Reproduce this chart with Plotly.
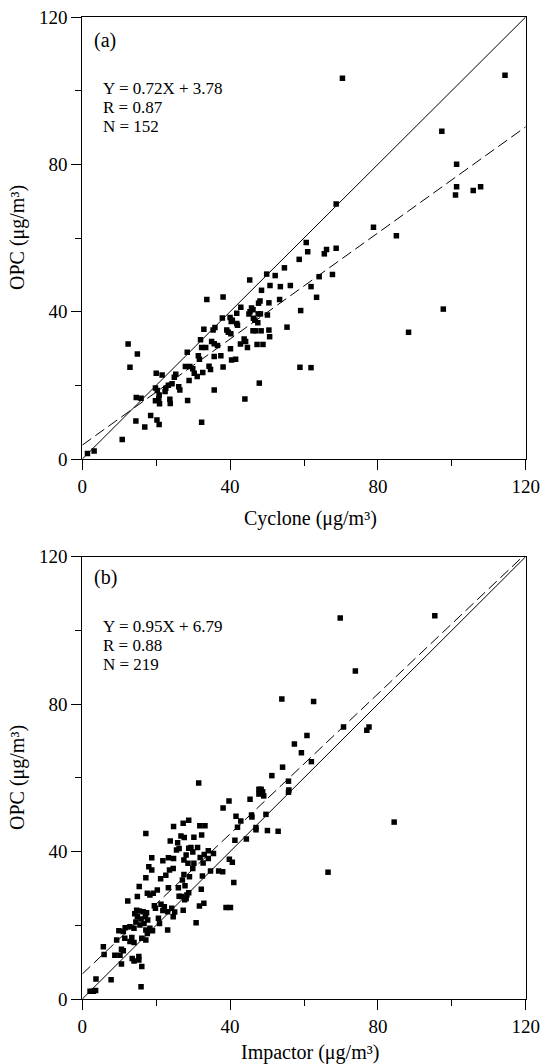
import plotly.graph_objects as go

# ---------------- data ----------------
cyclone_x = [70.4, 114.4, 97.3, 101.3, 101.3, 101.0, 105.8, 107.8, 68.7, 78.8, 85.0, 60.6, 66.1, 68.7,
             61.0, 58.7, 65.5, 54.7, 49.9, 52.2, 67.7, 64.1, 45.3, 50.8, 53.6, 56.3, 61.9, 48.5, 63.4, 53.4,
             33.7, 38.1, 48.1, 50.5, 47.7, 42.9, 45.8, 46.2, 59.1, 97.7, 41.8, 45.4, 45.1, 47.6, 48.2, 50.1,
             37.9, 40.0, 40.6, 46.3, 46.7, 47.5, 41.8, 42.0, 40.3, 35.9, 35.4, 32.9, 55.4, 39.1, 39.5, 40.2,
             46.2, 46.9, 48.4, 50.5, 50.7, 88.3, 32.0, 43.8, 44.2, 35.0, 35.7, 36.6, 42.8, 44.7, 47.3, 48.9,
             32.3, 33.4, 40.1, 12.4, 14.9, 28.4, 31.4, 31.7, 35.7, 37.5, 40.4, 41.5, 12.9, 34.3, 34.7, 38.1,
             27.9, 29.1, 29.9, 58.9, 61.9, 30.3, 31.1, 32.6, 28.9, 20.0, 21.6, 25.3, 24.9, 23.3, 24.3, 22.6,
             22.4, 26.1, 26.4, 19.8, 20.3, 20.8, 20.7, 19.8, 20.9, 23.7, 23.8, 28.5, 47.9, 35.7, 14.6, 15.9,
             44.0, 18.5, 20.2, 20.8, 14.5, 16.9, 32.3, 10.8, 1.4, 3.2]
cyclone_y = [103.4, 104.2, 89.0, 80.0, 73.9, 71.7, 72.9, 73.9, 69.2, 62.9, 60.6, 58.8, 56.9, 57.2,
             56.3, 54.2, 55.7, 51.9, 50.2, 49.8, 50.1, 49.5, 48.6, 47.1, 46.8, 47.1, 46.8, 45.8, 43.9, 43.3,
             43.3, 44.0, 42.9, 42.4, 42.3, 41.2, 41.0, 40.5, 40.3, 40.7, 39.6, 40.0, 39.4, 39.4, 39.4, 39.1,
             38.3, 38.4, 37.7, 38.2, 37.7, 37.0, 36.8, 36.3, 37.3, 35.7, 35.0, 35.2, 35.8, 35.0, 34.4, 34.0,
             34.8, 34.8, 34.8, 35.0, 33.2, 34.4, 32.4, 32.6, 31.9, 31.9, 31.3, 30.8, 31.2, 30.3, 31.1, 31.1,
             30.3, 30.3, 29.9, 31.2, 28.5, 29.0, 28.0, 27.1, 27.8, 28.0, 26.9, 27.1, 24.9, 25.2, 24.3, 25.0,
             25.1, 25.1, 24.5, 24.9, 24.8, 23.3, 22.4, 23.5, 21.3, 23.3, 22.8, 23.0, 22.2, 20.0, 20.4, 19.2,
             18.3, 19.6, 18.7, 19.3, 18.6, 17.4, 16.5, 15.8, 15.0, 16.2, 15.1, 15.9, 20.6, 18.7, 16.7, 16.5,
             16.3, 11.8, 10.6, 9.4, 10.3, 8.7, 10.0, 5.3, 1.5, 2.2]

impactor_x = [69.8, 95.4, 73.9, 54.0, 62.6, 60.8, 57.4, 59.3, 62.0, 54.2, 70.7, 77.0, 77.6,
              51.3, 55.8, 55.9, 55.8, 31.5, 47.8, 48.4, 48.8, 47.8, 49.1, 39.7, 45.4, 38.1, 41.6, 42.9,
              45.8, 45.9, 49.7, 42.0, 47.0, 47.0, 50.1, 53.0, 44.4, 41.3, 84.4, 66.5, 17.2, 24.7, 27.3,
              28.8, 31.8, 33.2, 26.7, 27.6, 23.8, 25.8, 30.2, 32.3, 31.2, 28.8, 29.4, 29.9, 25.5, 26.2,
              34.1, 35.5, 33.0, 31.9, 34.1, 32.7, 28.1, 27.5, 28.6, 30.2, 29.9, 24.7, 23.3, 21.8, 18.8,
              18.0, 18.8, 22.6, 24.6, 23.6, 21.2, 17.2, 27.5, 27.1, 29.0, 32.5, 34.7, 36.9, 38.0, 39.8,
              40.6, 41.0, 15.4, 23.3, 26.0, 27.8, 26.2, 26.8, 28.3, 28.8, 27.7, 28.1, 32.2, 20.3, 17.6,
              18.3, 19.2, 14.9, 12.3, 21.3, 22.2, 21.8, 23.1, 19.5, 19.8, 24.2, 25.0, 24.6, 27.3, 32.9,
              31.7, 38.9, 40.1, 30.8, 14.7, 15.4, 16.5, 17.4, 14.2, 14.9, 15.9, 17.1, 14.5, 15.6, 16.7,
              17.7, 18.3, 19.0, 17.2, 17.6, 20.9, 20.6, 23.1, 16.1, 17.2, 11.6, 12.9, 14.0, 9.9, 11.1,
              9.3, 11.5, 13.4, 12.9, 14.0, 10.6, 11.1, 8.8, 10.2, 5.7, 5.9, 14.0, 15.3, 13.5, 15.3, 10.6,
              16.1, 7.8, 3.7, 15.9, 2.1, 3.0, 3.6]
impactor_y = [103.4, 104.0, 89.0, 81.4, 80.7, 71.5, 69.2, 66.8, 64.4, 62.9, 73.8, 72.9, 73.8,
              60.6, 59.1, 56.7, 56.1, 58.6, 56.9, 56.9, 56.2, 55.6, 55.1, 53.7, 54.2, 51.8, 49.6, 48.3,
              49.9, 49.4, 50.1, 46.6, 46.5, 45.9, 45.7, 45.5, 43.4, 43.1, 48.0, 34.4, 44.9, 46.8, 47.7,
              48.5, 47.0, 47.0, 44.2, 43.8, 42.9, 42.4, 43.9, 44.5, 41.1, 40.9, 41.1, 39.9, 40.4, 40.8,
              40.2, 39.5, 39.2, 38.4, 38.1, 36.9, 39.1, 37.7, 36.8, 36.8, 35.4, 38.1, 38.3, 37.5, 38.3,
              35.9, 35.0, 33.6, 35.4, 35.0, 32.6, 32.9, 33.8, 32.3, 33.2, 33.4, 34.7, 34.7, 34.5, 37.9,
              37.1, 31.6, 30.5, 30.2, 30.2, 30.7, 27.9, 27.8, 28.2, 28.8, 26.9, 27.3, 29.8, 29.6, 28.7,
              28.2, 28.7, 27.8, 26.6, 25.7, 25.0, 24.0, 23.7, 25.3, 24.6, 24.6, 23.6, 22.3, 24.1, 26.0,
              25.2, 24.8, 24.8, 20.7, 24.1, 23.9, 23.7, 23.4, 23.1, 22.3, 21.7, 22.3, 20.9, 20.1, 20.5,
              21.4, 19.2, 18.5, 18.7, 17.8, 20.5, 21.9, 18.7, 16.5, 16.0, 19.3, 19.6, 19.2, 18.5, 18.3,
              16.0, 16.5, 16.7, 15.6, 15.3, 13.5, 13.1, 11.9, 11.9, 14.2, 12.1, 10.3, 10.6, 11.0, 11.5, 9.5,
              8.8, 5.2, 5.4, 3.3, 2.1, 2.1, 2.3]

fit_a = (0.72, 3.78)
fit_b = (0.95, 6.79)
stats_a = ["Y = 0.72X + 3.78", "R = 0.87", "N = 152"]
stats_b = ["Y = 0.95X + 6.79", "R = 0.88", "N = 219"]
tick_vals = [0, 40, 80, 120]
minor_vals = [20, 60, 100]
axis_range = [0, 120]

# ---------------- figure ----------------
W, H = 542, 1064
FONT = "Liberation Serif, Times New Roman, serif"

def px_x(p):
    return p / W

def px_y(p):
    return 1 - p / H

fig = go.Figure()
line_x = [axis_range[0], axis_range[1]]

panels = [
    ("x", "y", cyclone_x, cyclone_y, fit_a),
    ("x2", "y2", impactor_x, impactor_y, fit_b),
]
for xa, ya, xs, ys, (m, c) in panels:
    fig.add_trace(go.Scatter(x=xs, y=ys, mode="markers", xaxis=xa, yaxis=ya,
                             marker=dict(symbol="square", size=5.5, color="black",
                                         line=dict(width=0)),
                             showlegend=False, cliponaxis=True))
    fig.add_trace(go.Scatter(x=line_x, y=line_x, mode="lines", xaxis=xa, yaxis=ya,
                             line=dict(color="black", width=1), showlegend=False))
    fig.add_trace(go.Scatter(x=line_x, y=[m * v + c for v in line_x], mode="lines",
                             xaxis=xa, yaxis=ya,
                             line=dict(color="black", width=1, dash="11px,5px"),
                             showlegend=False))

axis_common = dict(range=axis_range, tickvals=tick_vals, showgrid=False, zeroline=False,
                   automargin=False,
                   showline=True, linecolor="black", linewidth=1, mirror=True,
                   ticks="outside", ticklen=10, tickwidth=1, tickcolor="black",
                   tickfont=dict(family=FONT, size=19, color="black"),
                   minor=dict(tickvals=minor_vals, ticks="outside", ticklen=6,
                              tickwidth=1, tickcolor="black", showgrid=False),
                   fixedrange=True)

xdom = [px_x(82.3), px_x(525.7)]
fig.update_layout(
    template="none",
    width=W, height=H, margin=dict(l=0, r=0, t=0, b=0, autoexpand=False),
    paper_bgcolor="white", plot_bgcolor="white",
    xaxis=dict(domain=xdom, anchor="y", **axis_common),
    yaxis=dict(domain=[px_y(459), px_y(17)], anchor="x", **axis_common),
    xaxis2=dict(domain=xdom, anchor="y2", **axis_common),
    yaxis2=dict(domain=[px_y(999), px_y(556.7)], anchor="x2", **axis_common),
)

ann = []
def text(x, y, s, size, anchor="left", angle=0):
    ann.append(dict(x=px_x(x), y=px_y(y), xref="paper", yref="paper", text=s,
                    showarrow=False, xanchor=anchor, yanchor="middle", textangle=angle,
                    font=dict(family=FONT, size=size, color="black")))

# panel labels
text(91.7, 40, "(a)", 20)
text(91.7, 577, "(b)", 20)
# statistics
for i, s in enumerate(stats_a):
    text(101, 88.3 + 19 * i, s, 17)
for i, s in enumerate(stats_b):
    text(101, 626.7 + 19 * i, s, 17)
# axis titles
text(310, 519, "Cyclone (μg/m³)", 20, anchor="center")
text(310, 1052, "Impactor (μg/m³)", 20, anchor="center")
text(17, 238, "OPC (μg/m³)", 20, anchor="center", angle=-90)
text(17, 778, "OPC (μg/m³)", 20, anchor="center", angle=-90)
fig.update_layout(annotations=ann)

fig.write_html("out.html")
